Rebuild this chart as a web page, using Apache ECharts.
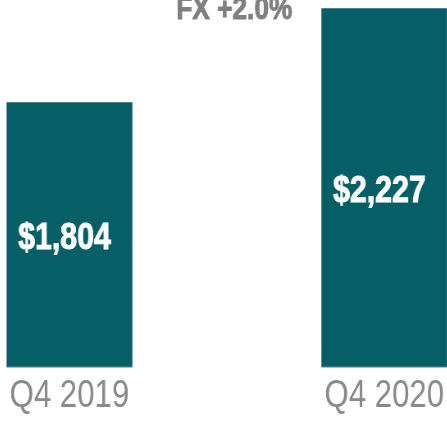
<!DOCTYPE html>
<html>
<head>
<meta charset="utf-8">
<script src="https://cdn.jsdelivr.net/npm/echarts@6/dist/echarts.min.js"></script>
<style>
    html, body { margin: 0; padding: 0; background: #fff; overflow: hidden; width: 447px; height: 421px; position: relative; }
    /* Liberation Sans squeezed to 82% looks like Arial Narrow */
    #chart { position: absolute; left: -88px; top: 0; width: 768px; height: 421px; transform: scaleX(0.82); transform-origin: 0 0; }
</style>
</head>
<body>
<div id="chart"></div>
<script>
let categories = ['Q4 2019', 'Q4 2020'];
let revenue = [1804, 2227];
let fxNote = 'FX +2.0%';

let barColor = '#065f67';
let labelGray = '#8a8a8a';
let font = '"Liberation Sans", Arial, sans-serif';

let myChart = echarts.init(document.getElementById('chart'));

let option = {
    animation: false,
    grid: {
        left: 0,
        right: 0,
        top: 0,
        bottom: 54,
        containLabel: false
    },
    xAxis: {
        type: 'category',
        data: categories,
        axisLine: { show: false },
        axisTick: { show: false },
        axisLabel: {
            color: labelGray,
            fontFamily: font,
            fontSize: 38,
            margin: 11
        }
    },
    yAxis: {
        type: 'value',
        min: 611,
        max: 2263,
        show: false,
        splitLine: { show: false }
    },
    graphic: [
        {
            type: 'text',
            x: 393,
            y: 10,
            z: 100,
            style: {
                text: fxNote,
                fill: '#808080',
                fontFamily: font,
                fontWeight: 'bold',
                fontSize: 32,
                textAlign: 'center',
                textVerticalAlign: 'middle',
                stroke: '#808080',
                lineWidth: 1
            }
        }
    ],
    series: [
        {
            type: 'bar',
            data: revenue,
            barWidth: 154,
            itemStyle: {
                color: barColor,
                borderColor: '#4f858a',
                borderWidth: 1
            },
            label: {
                show: true,
                position: 'inside',
                offset: [-6, 4],
                color: '#fff',
                fontFamily: font,
                fontWeight: 'bold',
                fontSize: 37,
                textBorderColor: '#fff',
                textBorderWidth: 1,
                formatter: (p) => '$' + p.value.toLocaleString('en-US')
            }
        }
    ]
};

myChart.setOption(option, true);
</script>
</body>
</html>
